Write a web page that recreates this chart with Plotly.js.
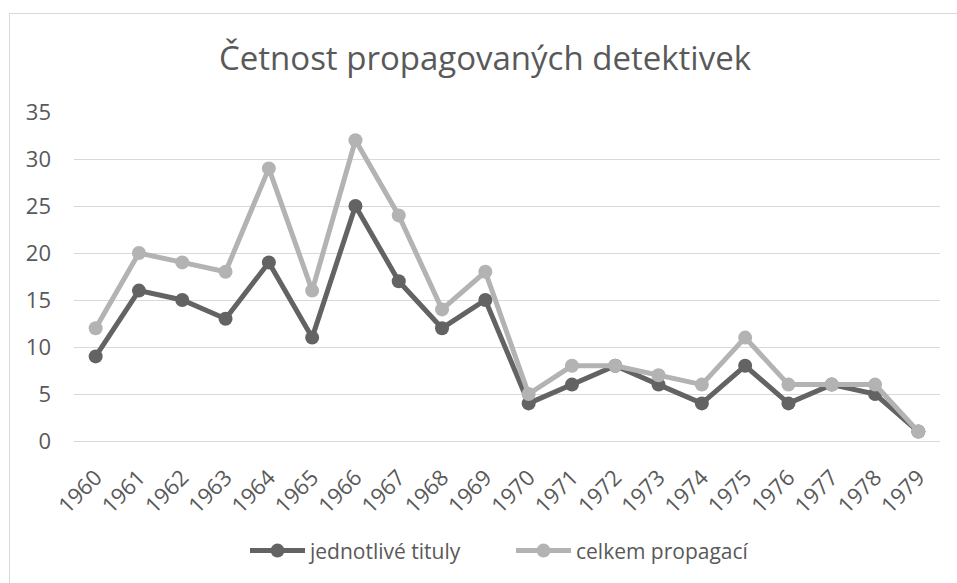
<!DOCTYPE html>
<html>
<head>
<meta charset="utf-8">
<script src="https://cdn.plot.ly/plotly-3.0.1.min.js"></script>
<style>
  html, body { margin: 0; padding: 0; background: #fff; }
  #wrap { position: relative; width: 957px; height: 583px; overflow: hidden; }
  #chart { position: absolute; left: 0; top: 0; width: 957px; height: 583px; }
  #frame { position: absolute; left: 9px; top: 13px; width: 960px; height: 600px; border: 1px solid #d9d9d9; pointer-events: none; }
</style>
</head>
<body>
<div id="wrap">
  <div id="chart"></div>
  <div id="frame"></div>
</div>
<script>
const years = ["1960","1961","1962","1963","1964","1965","1966","1967","1968","1969",
               "1970","1971","1972","1973","1974","1975","1976","1977","1978","1979"];
const jednotliveTituly = [9,16,15,13,19,11,25,17,12,15,4,6,8,6,4,8,4,6,5,1];
const celkemPropagaci = [12,20,19,18,29,16,32,24,14,18,5,8,8,7,6,11,6,6,6,1];
const yTicks = [0,5,10,15,20,25,30,35];

const font = "Open Sans, Liberation Sans, sans-serif";
const textColor = "#595959";

const traces = [
  {
    x: years, y: jednotliveTituly, type: "scatter", mode: "lines+markers",
    name: "jednotlivé tituly",
    line: { color: "#636363", width: 5 },
    marker: { color: "#636363", size: 14 }
  },
  {
    x: years, y: celkemPropagaci, type: "scatter", mode: "lines+markers",
    name: "celkem propagací",
    line: { color: "#b3b3b3", width: 5 },
    marker: { color: "#b3b3b3", size: 14 }
  }
];

const layout = {
  width: 957, height: 583,
  margin: { l: 74, r: 17, t: 112, b: 142 },
  paper_bgcolor: "#fff", plot_bgcolor: "#fff",
  font: { family: font, color: textColor, size: 20 },
  title: {
    text: "Četnost propagovaných detektivek",
    font: { family: font, size: 33, color: textColor },
    x: 485 / 957, xanchor: "center", xref: "container",
    y: 0.9, yanchor: "middle", yref: "container"
  },
  xaxis: {
    type: "category",
    range: [-0.5, 19.5],
    tickangle: -45,
    automargin: false,
    showgrid: false,
    showline: true, linecolor: "#d9d9d9", linewidth: 1,
    ticks: "", ticklen: 0,
    ticklabelstandoff: 14,
    tickfont: { family: font, size: 22, color: textColor },
    fixedrange: true
  },
  yaxis: {
    range: [0, 35],
    tickvals: yTicks,
    automargin: false,
    showgrid: true, gridcolor: "#d9d9d9", gridwidth: 1,
    zeroline: false, showline: false,
    ticks: "", ticklabelstandoff: 22,
    tickfont: { family: font, size: 22, color: textColor },
    fixedrange: true
  },
  showlegend: true,
  legend: {
    orientation: "h",
    x: 245 / 957, xanchor: "left", xref: "container",
    y: 0.055, yanchor: "middle", yref: "container",
    font: { family: font, size: 21, color: textColor },
    itemwidth: 55,
    entrywidth: 196,
    tracegroupgap: 0
  }
};

Plotly.newPlot("chart", traces, layout, { displayModeBar: false, staticPlot: true });
</script>
</body>
</html>
